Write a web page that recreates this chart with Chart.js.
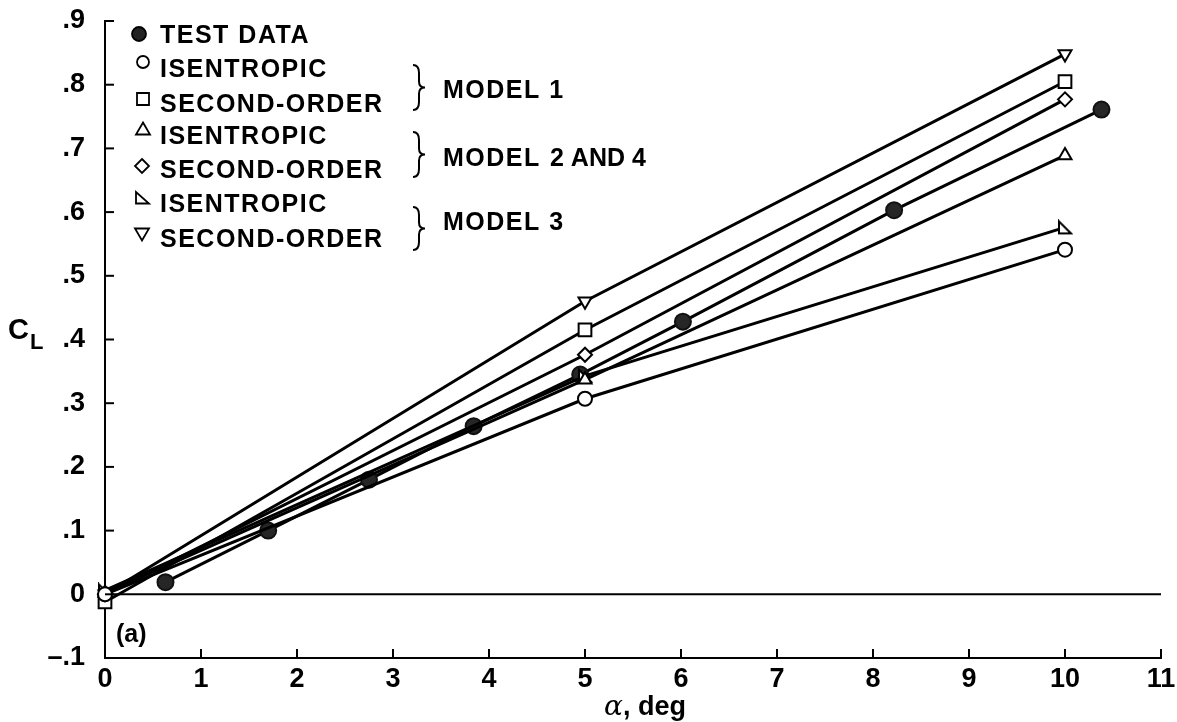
<!DOCTYPE html>
<html>
<head>
<meta charset="utf-8">
<script src="https://cdn.jsdelivr.net/npm/chart.js@4.4.0/dist/chart.umd.min.js"></script>
<style>
  html, body { margin: 0; padding: 0; background: #fff; }
  canvas { display: block; }
</style>
</head>
<body>
<canvas id="clChart" width="1177" height="722"></canvas>
<script>
// test data (filled circles)
const testAlpha = [0.63, 1.70, 2.75, 3.84, 4.95, 6.02, 8.22, 10.38];
const testCL = [0.019, 0.100, 0.180, 0.264, 0.345, 0.428, 0.603, 0.761];

// predictions at alpha = 0, 5, 10
const modelAlpha = [0, 5, 10];
const model1Isen = [0, 0.307, 0.541];
const model1Second = [-0.012, 0.415, 0.805];
const model24Isen = [0.002, 0.337, 0.689];
const model24Second = [0, 0.376, 0.777];
const model3Isen = [0.006, 0.343, 0.576];
const model3Second = [0, 0.460, 0.848];

const xTicks = [0, 1, 2, 3, 4, 5, 6, 7, 8, 9, 10, 11];
const yTicks = [-0.1, 0, 0.1, 0.2, 0.3, 0.4, 0.5, 0.6, 0.7, 0.8, 0.9];

const FONT = '"Liberation Sans", Arial, sans-serif';

function pts(xs, ys) {
    return xs.map((x, i) => ({ x: x, y: ys[i] }));
}

// right-angle triangle marker (model 3 isentropic)
function rightTriangle(size) {
    const c = document.createElement('canvas');
    c.width = size; c.height = size;
    const g = c.getContext('2d');
    g.lineWidth = 2;
    g.strokeStyle = '#000';
    g.fillStyle = '#fff';
    g.beginPath();
    g.moveTo(2, 2);
    g.lineTo(2, size - 2);
    g.lineTo(size - 2, size - 2);
    g.closePath();
    g.fill();
    g.stroke();
    return c;
}
const rightTri = rightTriangle(16);

function series(data, style, radius, rotation) {
    return {
        data: data,
        borderColor: '#000',
        borderWidth: 3,
        showLine: true,
        pointStyle: style,
        pointRadius: radius,
        pointRotation: rotation || 0,
        pointBackgroundColor: '#fff',
        pointBorderColor: '#000',
        pointBorderWidth: 2,
        clip: false
    };
}

function drawSymbol(ctx, kind, x, y) {
    ctx.save();
    ctx.lineWidth = 1.8;
    ctx.strokeStyle = '#000';
    ctx.fillStyle = '#fff';
    ctx.beginPath();
    if (kind === 'dot') {
        ctx.fillStyle = '#222';
        ctx.arc(x, y, 7, 0, Math.PI * 2);
    } else if (kind === 'circle') {
        ctx.arc(x, y, 6, 0, Math.PI * 2);
    } else if (kind === 'square') {
        ctx.rect(x - 6, y - 6, 12, 12);
    } else if (kind === 'up') {
        ctx.moveTo(x, y - 6.5); ctx.lineTo(x + 7, y + 5.5); ctx.lineTo(x - 7, y + 5.5); ctx.closePath();
    } else if (kind === 'diamond') {
        ctx.moveTo(x, y - 7); ctx.lineTo(x + 7, y); ctx.lineTo(x, y + 7); ctx.lineTo(x - 7, y); ctx.closePath();
    } else if (kind === 'right') {
        ctx.moveTo(x - 6, y - 6); ctx.lineTo(x - 6, y + 5.5); ctx.lineTo(x + 7, y + 5.5); ctx.closePath();
    } else if (kind === 'down') {
        ctx.moveTo(x - 7, y - 5.5); ctx.lineTo(x + 7, y - 5.5); ctx.lineTo(x, y + 6.5); ctx.closePath();
    }
    ctx.fill();
    ctx.stroke();
    ctx.restore();
}

function brace(ctx, x, top, bottom) {
    const mid = (top + bottom) / 2;
    ctx.save();
    ctx.lineWidth = 2;
    ctx.strokeStyle = '#000';
    ctx.beginPath();
    ctx.moveTo(x - 5, top);
    ctx.quadraticCurveTo(x + 1, top, x + 1, top + 8);
    ctx.lineTo(x + 1, mid - 6);
    ctx.quadraticCurveTo(x + 1, mid, x + 7, mid);
    ctx.quadraticCurveTo(x + 1, mid, x + 1, mid + 6);
    ctx.lineTo(x + 1, bottom - 8);
    ctx.quadraticCurveTo(x + 1, bottom, x - 5, bottom);
    ctx.stroke();
    ctx.restore();
}

const zeroLine = {
    id: 'zeroLine',
    beforeDatasetsDraw(chart) {
        const { ctx, scales: { x, y } } = chart;
        const py = y.getPixelForValue(0);
        ctx.save();
        ctx.strokeStyle = '#000';
        ctx.lineWidth = 2;
        ctx.beginPath();
        ctx.moveTo(x.getPixelForValue(0), py);
        ctx.lineTo(x.getPixelForValue(11), py);
        ctx.stroke();
        ctx.restore();
    }
};

const annotations = {
    id: 'annotations',
    afterDraw(chart) {
        const { ctx, scales: { x, y } } = chart;
        ctx.save();
        ctx.strokeStyle = '#000';
        ctx.lineWidth = 2;
        // inward tick marks
        xTicks.forEach(v => {
            const px = x.getPixelForValue(v);
            ctx.beginPath();
            ctx.moveTo(px, y.bottom);
            ctx.lineTo(px, y.bottom - 9);
            ctx.stroke();
        });
        yTicks.forEach(v => {
            const py = y.getPixelForValue(v);
            ctx.beginPath();
            ctx.moveTo(x.left, py);
            ctx.lineTo(x.left + 9, py);
            ctx.stroke();
        });

        ctx.fillStyle = '#000';
        ctx.textBaseline = 'alphabetic';
        ctx.textAlign = 'left';

        // legend
        const rows = [
            ['dot', 'TEST DATA', 139, 34, 43],
            ['circle', 'ISENTROPIC', 143, 62, 77],
            ['square', 'SECOND-ORDER', 143, 99, 112],
            ['up', 'ISENTROPIC', 143, 129, 144],
            ['diamond', 'SECOND-ORDER', 142, 166, 178],
            ['right', 'ISENTROPIC', 142, 198, 212],
            ['down', 'SECOND-ORDER', 142, 234, 247]
        ];
        ctx.font = 'bold 25px ' + FONT;
        ctx.letterSpacing = '1.5px';
        rows.forEach(r => {
            drawSymbol(ctx, r[0], r[2], r[3]);
            ctx.fillText(r[1], 160, r[4]);
        });
        brace(ctx, 418, 65, 110);
        brace(ctx, 418, 132, 177);
        brace(ctx, 418, 207, 250);
        ctx.fillText('MODEL 1', 443, 98);
        ctx.fillText('MODEL 3', 443, 230);
        ctx.fillText('MODEL', 443, 166);
        ctx.letterSpacing = '0px';
        ctx.fillText('2 AND 4', 550, 166);

        // panel tag
        ctx.font = 'bold 25px ' + FONT;
        ctx.fillText('(a)', 116, 642);

        // y axis title C_L
        ctx.font = 'bold 29px ' + FONT;
        ctx.fillText('C', 8, 339);
        ctx.font = 'bold 22px ' + FONT;
        ctx.fillText('L', 30, 349);

        // x axis title
        ctx.font = 'italic 28px "DejaVu Serif", serif';
        ctx.fillText('\u03b1', 604, 715);
        const aw = ctx.measureText('\u03b1').width;
        ctx.font = 'bold 27px ' + FONT;
        ctx.fillText(', deg', 604 + aw, 715);
        ctx.restore();
    }
};

const ctx = document.getElementById('clChart').getContext('2d');
const clChart = new Chart(ctx, {
    type: 'scatter',
    data: {
        datasets: [
            series(pts(modelAlpha, model1Isen), 'circle', 7),
            series(pts(modelAlpha, model24Isen), 'triangle', 7.5),
            series(pts(modelAlpha, model3Isen), rightTri, 8),
            series(pts(modelAlpha, model24Second), 'rectRot', 7),
            series(pts(modelAlpha, model1Second), 'rect', 9),
            series(pts(modelAlpha, model3Second), 'triangle', 7.5, 180),
            Object.assign(series(pts(testAlpha, testCL), 'circle', 8), {
                pointBackgroundColor: '#262626',
                pointBorderColor: '#111'
            })
        ]
    },
    options: {
        responsive: false,
        animation: false,
        layout: { padding: { left: 0, right: 16, top: 21, bottom: 0 } },
        plugins: {
            legend: { display: false },
            tooltip: { enabled: false }
        },
        scales: {
            x: {
                type: 'linear',
                min: 0,
                max: 11,
                afterBuildTicks: s => { s.ticks = xTicks.map(v => ({ value: v })); },
                afterFit: s => { s.height = 64; s.paddingLeft = 0; s.paddingRight = 0; },
                grid: { display: true, drawOnChartArea: false, drawTicks: false, color: 'rgba(0,0,0,0)' },
                border: { display: true, color: '#000', width: 2 },
                ticks: {
                    padding: 5,
                    color: '#000',
                    font: { family: FONT, weight: 'bold', size: 27 },
                    callback: v => String(v)
                }
            },
            y: {
                type: 'linear',
                min: -0.1,
                max: 0.9,
                afterBuildTicks: s => { s.ticks = yTicks.map(v => ({ value: v })); },
                afterFit: s => { s.width = 105; s.paddingTop = 0; s.paddingBottom = 0; },
                grid: { display: true, drawOnChartArea: false, drawTicks: false, color: 'rgba(0,0,0,0)' },
                border: { display: true, color: '#000', width: 2 },
                ticks: {
                    padding: 20,
                    color: '#000',
                    font: { family: FONT, weight: 'bold', size: 27 },
                    callback: v => {
                        if (Math.abs(v) < 1e-9) return '0';
                        const s = v.toFixed(1).replace('0.', '.');
                        return s.replace('-', '\u2013');
                    }
                }
            }
        }
    },
    plugins: [zeroLine, annotations]
});
</script>
</body>
</html>
